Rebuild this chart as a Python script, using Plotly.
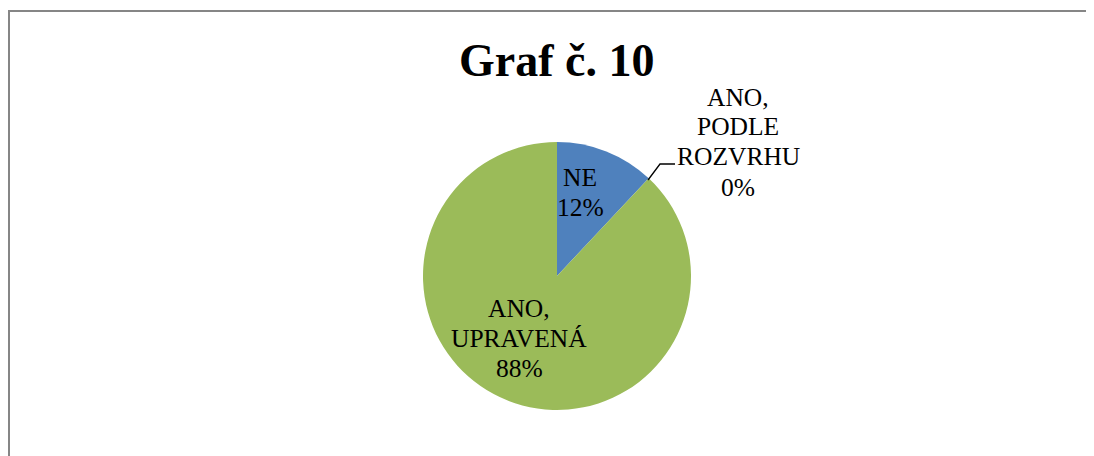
import plotly.graph_objects as go

W, H = 1094, 456
OFF = 8  # page body margin

# Data
labels = ["NE", "ANO, PODLE ROZVRHU", "ANO, UPRAVENÁ"]
values = [12, 0, 88]
colors = ["#4F81BD", "#C0504D", "#9BBB59"]
label_lines = [["NE"], ["ANO,", "PODLE", "ROZVRHU"], ["ANO,", "UPRAVENÁ"]]
title_text = "Graf č. 10"


def px(x):
    return (x - OFF) / W


def py(y):
    return 1 - (y - OFF) / H


total = sum(values)
pcts = [round(v / total * 100) for v in values]

fig = go.Figure(
    go.Pie(
        labels=labels,
        values=values,
        marker=dict(colors=colors, line=dict(width=0)),
        sort=False,
        direction="clockwise",
        rotation=0,
        textinfo="none",
        hoverinfo="label+percent",
        domain=dict(x=[px(423), px(691)], y=[py(410), py(142)]),
        showlegend=False,
    )
)

SERIF = "Times New Roman, Liberation Serif, serif"
label_pos = [(580, 192), (738, 142), (519, 338)]
LINE = 30
font = dict(family=SERIF, size=25.5, color="#000000")
annotations = []
for lines, pct, (x, y) in zip(label_lines, pcts, label_pos):
    all_lines = lines + [f"{pct}%"]
    n = len(all_lines)
    for i, t in enumerate(all_lines):
        yy = y + (i - (n - 1) / 2) * LINE
        annotations.append(
            dict(
                text=t,
                x=px(x), y=py(yy), xref="paper", yref="paper",
                xanchor="center", yanchor="middle", showarrow=False,
                font=font, align="center",
            )
        )
annotations.append(
    dict(
        text=f"<b>{title_text}</b>",
        x=px(556), y=py(60), xref="paper", yref="paper",
        xanchor="center", yanchor="middle", showarrow=False,
        font=dict(family=SERIF, size=46, color="#000000"),
    )
)

shapes = [
    dict(type="rect", xref="paper", yref="paper",
         x0=px(9), x1=px(W + 20), y0=py(H + 20), y1=py(11),
         line=dict(color="#868686", width=2), fillcolor="rgba(0,0,0,0)"),
    dict(type="path", xref="paper", yref="paper",
         path=f"M {px(648)} {py(180)} L {px(660)} {py(164)} L {px(675)} {py(164)}",
         line=dict(color="#000000", width=1.3)),
]

fig.update_layout(
    width=W, height=H,
    margin=dict(l=0, r=0, t=0, b=0),
    paper_bgcolor="white", plot_bgcolor="white",
    annotations=annotations,
    shapes=shapes,
)

fig.write_html("out.html")
